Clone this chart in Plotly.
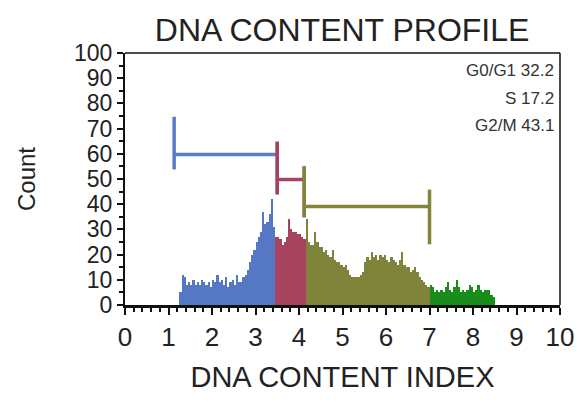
import plotly.graph_objects as go

# ---- data ----
bin_width = 0.05
phase_names = ["G0/G1", "S", "G2/M", "Other"]
phase_start = [1.25, 3.45, 4.15, 7.00]
phase_colors = ["#5577c4", "#a8435f", "#80843a", "#1a8c1a"]

g0g1_counts = [5, 12, 11, 8, 9, 8, 10, 8, 9, 8, 10, 9, 8, 9, 7, 10, 9, 12, 9, 10,
               8, 11, 7, 9, 10, 8, 12, 9, 9, 11, 12, 14, 17, 20, 22, 25, 27, 29, 37, 32,
               33, 36, 42, 31]
s_counts = [27, 27, 26, 24, 25, 27, 34, 30, 29, 29, 28, 28, 27, 26]
g2m_counts = [34, 25, 24, 24, 29, 25, 23, 23, 21, 22, 20, 19, 22, 18, 17, 17, 16,
              15, 16, 14, 12, 11, 11, 11, 11, 12, 13, 17, 19, 18, 21, 19, 20, 18, 20, 19, 20,
              18, 17, 19, 18, 17, 16, 18, 21, 16, 15, 15, 13, 14, 15, 13, 11, 10, 9, 8, 7]
other_counts = [8, 7, 5, 6, 5, 6, 5, 7, 9, 6, 5, 7, 10, 7, 5, 6, 5, 6, 8, 7,
                5, 6, 8, 6, 5, 6, 6, 6, 4, 3]
phase_counts = [g0g1_counts, s_counts, g2m_counts, other_counts]

# gates (brackets)
gate_colors = ["#5a7bc6", "#a8435f", "#83853a"]
gate_lo = [1.13, 3.50, 4.12]
gate_hi = [3.50, 4.12, 7.00]
gate_y = [59.7, 49.8, 39.1]
gate_left_bot = [53.8, 43.9, 34.8]
gate_left_top = [74.7, 64.8, 55.0]
gate_right_bot = [43.9, 34.8, 24.1]
gate_right_top = [64.8, 55.0, 45.8]

stat_labels = ["G0/G1 32.2", "S 17.2", "G2/M 43.1"]
stat_y = [92.9, 82.1, 71.4]
stat_x = 9.9

x_ticks = list(range(0, 11))
y_ticks = list(range(0, 101, 10))

fig = go.Figure()

for name, start, color, counts in zip(phase_names, phase_start, phase_colors, phase_counts):
    xs = [start + (i + 0.5) * bin_width for i in range(len(counts))]
    fig.add_trace(go.Bar(x=xs, y=counts, width=bin_width, name=name,
                         marker=dict(color=color, line=dict(width=0)),
                         showlegend=False))

for c, lo, hi, y, lb, lt, rb, rt in zip(gate_colors, gate_lo, gate_hi, gate_y,
                                        gate_left_bot, gate_left_top,
                                        gate_right_bot, gate_right_top):
    fig.add_trace(go.Scatter(x=[lo, lo, None, lo, hi, None, hi, hi],
                             y=[lb, lt, None, y, y, None, rb, rt],
                             mode="lines", line=dict(color=c, width=3.5),
                             showlegend=False, hoverinfo="skip"))

for lab, y in zip(stat_labels, stat_y):
    fig.add_annotation(x=stat_x, y=y, text=lab, showarrow=False, xanchor="right",
                       yanchor="middle",
                       font=dict(family="Liberation Sans, Arial", size=17, color="#333333"))

fig.update_layout(
    width=578, height=398,
    margin=dict(l=117, r=17, t=45, b=101),
    paper_bgcolor="white", plot_bgcolor="white",
    bargap=0,
    title=dict(text="DNA CONTENT PROFILE", x=0.578, xanchor="center", y=0.945, yanchor="middle",
               font=dict(family="Liberation Sans, Arial", size=32, color="#222222")),
    xaxis=dict(range=[0, 10], tickvals=x_ticks, ticks="outside", ticklen=7, tickwidth=2,
               tickcolor="#111", showline=True, linecolor="#111", linewidth=3, mirror=False,
               showgrid=False, zeroline=False, ticklabeloverflow="allow",
               minor=dict(dtick=0.2, ticks="outside", ticklen=4, tickwidth=1.5, tickcolor="#111"),
               tickfont=dict(family="Liberation Sans, Arial", size=26, color="#222222"),
               title=dict(text="DNA CONTENT INDEX", standoff=16,
                          font=dict(family="Liberation Sans, Arial", size=29, color="#222222"))),
    yaxis=dict(range=[0, 100], tickvals=y_ticks, ticks="outside", ticklen=6, tickwidth=2,
               tickcolor="#111", showline=True, linecolor="#111", linewidth=2, mirror=False,
               showgrid=False, zeroline=False,
               minor=dict(dtick=5, ticks="outside", ticklen=4, tickwidth=1.5, tickcolor="#111"),
               tickfont=dict(family="Liberation Sans, Arial", size=23, color="#222222"),
               title=dict(text="Count", standoff=32,
                          font=dict(family="Liberation Sans, Arial", size=24, color="#222222"))),
    shapes=[dict(type="line", xref="paper", yref="paper", x0=0, x1=1, y0=1, y1=1,
                 line=dict(color="#111", width=1.5)),
            dict(type="line", xref="paper", yref="paper", x0=1, x1=1, y0=0, y1=1,
                 line=dict(color="#111", width=1.5))],
)

fig.write_html("out.html")
